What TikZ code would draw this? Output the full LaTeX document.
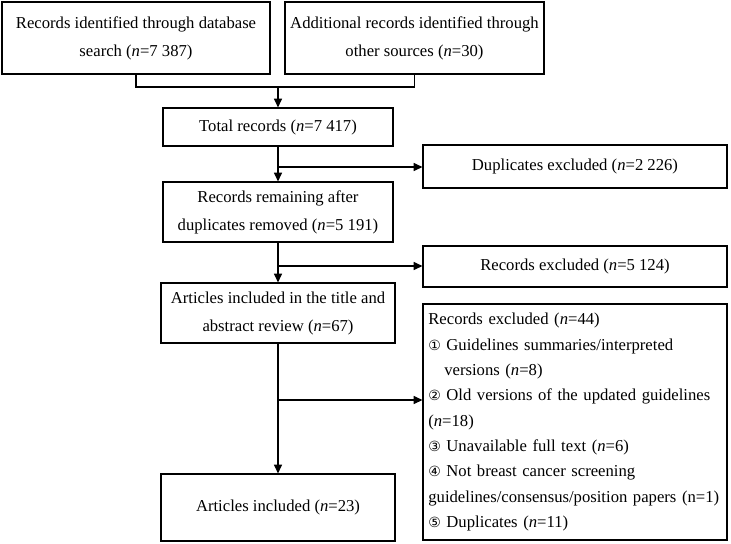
\documentclass[tikz,border=0pt]{standalone}
\usepackage{fontspec}
\setmainfont{Liberation Serif}
\newfontfamily\circfont{DejaVu Sans}
\usetikzlibrary{arrows.meta}
\newcommand{\cn}[1]{{\circfont\fontsize{10.5}{10}\selectfont #1}}
\tikzset{
  box/.style={draw, line width=0.9pt, inner sep=0pt, align=center,
    font=\fontsize{12.5}{21}\selectfont},
  conn/.style={line width=0.9pt},
  arr/.style={line width=0.9pt, -{Triangle[length=6.5pt,width=6pt]}}
}
\begin{document}
\begin{tikzpicture}[x=0.75pt,y=-0.75pt]
\useasboundingbox (0,0) rectangle (731,543);
\node[box, minimum width=201pt, minimum height=54pt] (b1) at (136,38)
  {Records identified through database\\search (\textit{n}=7 387)};
\node[box, minimum width=194.25pt, minimum height=54pt] (b2) at (414.5,38)
  {Additional records identified through\\other sources (\textit{n}=30)};
\node[box, minimum width=172.5pt, minimum height=28.5pt] (total) at (278,127)
  {Total records (\textit{n}=7 417)};
\node[box, minimum width=228pt, minimum height=32.25pt] (dup) at (575,166.5)
  {Duplicates excluded (\textit{n}=2 226)};
\node[box, minimum width=172.5pt, minimum height=45pt] (remain) at (278,212)
  {Records remaining after\\duplicates removed (\textit{n}=5 191)};
\node[box, minimum width=228pt, minimum height=30.75pt] (recex) at (575,266.5)
  {Records excluded (\textit{n}=5 124)};
\node[box, minimum width=175.5pt, minimum height=45pt] (title) at (278,313)
  {Articles included in the title and\\abstract review (\textit{n}=67)};
\node[box, minimum width=228pt, minimum height=177pt, align=left,
  text width=220pt, inner xsep=3.75pt, font=\fontsize{12.5}{19}\selectfont] (big) at (575,422)
  {Records excluded (\textit{n}=44)\\
   \cn{①} Guidelines summaries/interpreted\\
   \hspace*{12pt}versions (\textit{n}=8)\\
   \cn{②} Old versions of the updated guidelines\\
   (\textit{n}=18)\\
   \cn{③} Unavailable full text (\textit{n}=6)\\
   \cn{④} Not breast cancer screening\\
   guidelines/consensus/position papers (n=1)\\
   \cn{⑤} Duplicates (\textit{n}=11)};
\node[box, minimum width=175.5pt, minimum height=50.25pt] (incl) at (278,507.5)
  {Articles included (\textit{n}=23)};
\coordinate (j1) at (136,87);
\coordinate (j2) at (414.5,87);
\coordinate (j3) at (278,87);
\coordinate (k1) at (278,167);
\coordinate (k2) at (278,266);
\coordinate (k3) at (278,400);
\draw[conn] (b1.south) -- (j1) -- (j2) -- (b2.south);
\draw[arr] (j3) -- (total.north);
\draw[arr] (total.south) -- (remain.north);
\draw[arr] (k1) -- (k1 -| dup.west);
\draw[arr] (remain.south) -- (title.north);
\draw[arr] (k2) -- (k2 -| recex.west);
\draw[arr] (title.south) -- (incl.north);
\draw[arr] (k3) -- (k3 -| big.west);
\end{tikzpicture}
\end{document}
